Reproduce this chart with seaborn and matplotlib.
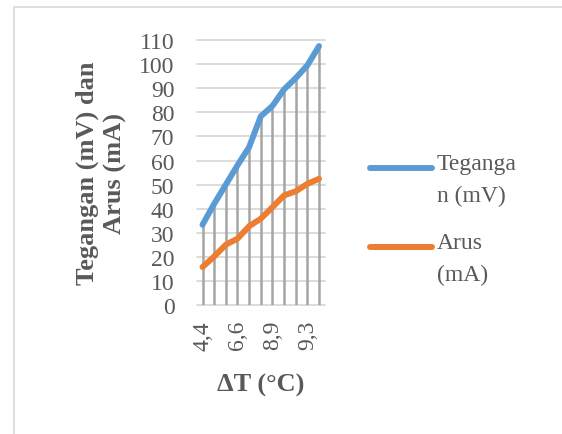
import numpy as np
import pandas as pd
import matplotlib
matplotlib.use("Agg")
import matplotlib.pyplot as plt
from matplotlib.lines import Line2D
from matplotlib.patches import Rectangle
import seaborn as sns

# data (x labels only every 3rd one is shown)
delta_t = ["4,4", "4,9", "5,8", "6,6", "7,3", "8,1", "8,9", "9,0", "9,1", "9,3", "9,5"]
tegangan = [33.3, 42.0, 50.0, 58.0, 65.6, 78.4, 82.7, 89.6, 94.3, 99.6, 107.6]
arus = [15.7, 20.1, 25.0, 27.5, 32.7, 35.8, 40.6, 45.5, 47.2, 50.3, 52.4]

blue = "#5b9bd5"
orange = "#ed7d31"
txt = "#595959"

sns.set_style("white")
plt.rcParams['font.family'] = ['Liberation Serif', 'DejaVu Serif']

pos = np.arange(len(delta_t))
df = pd.DataFrame({
    "pos": np.concatenate([pos, pos]),
    "nilai": tegangan + arus,
    "seri": ["Tegangan (mV)"] * len(pos) + ["Arus (mA)"] * len(pos),
})

fig = plt.figure(figsize=(5.62, 4.35), dpi=100)
ax = fig.add_axes([0.350, 0.297, 0.228, 0.608])

# horizontal gridlines
for v in range(0, 111, 10):
    ax.axhline(v, color="#d9d9d9", lw=1.3, zorder=0, clip_on=False)

# drop lines from axis up to the highest series
tops = np.maximum(tegangan, arus)
ax.vlines(pos, 0, tops, color="#a5a5a5", lw=1.8, zorder=1)

sns.lineplot(data=df, x="pos", y="nilai", hue="seri",
             palette=[blue, orange], lw=4.3, legend=False, ax=ax,
             zorder=3, solid_capstyle="round")

ax.set_xlim(-0.5, len(delta_t) - 0.5)
ax.set_ylim(0, 110)
for s in ax.spines.values():
    s.set_visible(False)

ax.set_yticks(range(0, 111, 10))
ax.tick_params(axis="y", length=0, labelsize=17, labelcolor=txt, pad=16)
ax.set_xticks(pos[::3])
ax.set_xticklabels(delta_t[::3], rotation=90)
ax.tick_params(axis="x", length=0, labelsize=17, labelcolor=txt, pad=11)

ax.set_xlabel("ΔT (°C)", fontsize=19, fontweight="bold", color=txt, labelpad=17)
ax.set_ylabel("Tegangan (mV) dan\nArus (mA)", fontsize=19, fontweight="bold",
              color=txt, labelpad=9, linespacing=1.25)

# legend drawn to match the Excel layout
W, H = 562, 435
for y, col, lab in [(169, blue, "Teganga\nn (mV)"), (248, orange, "Arus\n(mA)")]:
    fig.add_artist(Line2D([370 / W, 432 / W], [1 - y / H, 1 - y / H],
                          color=col, lw=4.3, solid_capstyle="round"))
    fig.text(437 / W, 1 - (y - 15) / H, lab, fontsize=17, color=txt,
             va="top", ha="left", linespacing=1.65)

# outer frame of the chart box
fig.add_artist(Rectangle((13.5 / W, -0.1), 1.2, (1 - 8 / H) + 0.1,
                         transform=fig.transFigure, fill=False,
                         edgecolor="#d9d9d9", lw=1.2))

fig.savefig("out.png", dpi=100)
